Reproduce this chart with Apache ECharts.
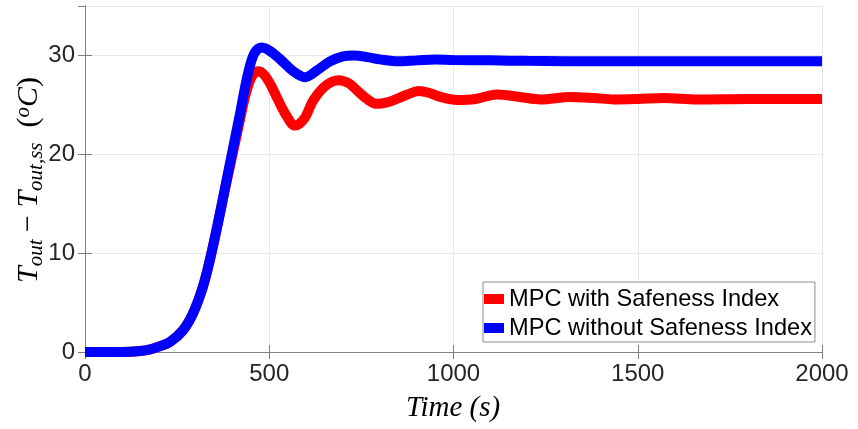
<!DOCTYPE html>
<html>
<head>
<meta charset="utf-8">
<script src="https://cdn.jsdelivr.net/npm/echarts@6/dist/echarts.min.js"></script>
<style>
html,body{margin:0;padding:0;background:#fff;}
#chart{width:858px;height:429px;}
</style>
</head>
<body>
<div id="chart"></div>
<script>
// Series names
const seriesNames = ['MPC with Safeness Index', 'MPC without Safeness Index'];

// MPC with Safeness Index (red)
const redTime = [0, 100, 150, 180, 200, 230, 266, 293, 320, 340, 360, 380, 400, 420, 437, 453, 470, 485, 500, 520, 545, 570, 595, 620, 655, 688, 715, 737, 765, 792, 820, 846, 875, 905, 935, 964, 1010, 1060, 1118, 1180, 1236, 1317, 1380, 1435, 1500, 1570, 1661, 1800, 2000];
const redVal  = [0, 0, 0.1, 0.3, 0.55, 1.0, 2.2, 3.9, 6.6, 9.5, 12.9, 16.5, 19.9, 23.4, 26.2, 27.9, 28.4, 28.1, 27.3, 25.8, 24.0, 22.9, 23.6, 25.5, 27.0, 27.5, 27.2, 26.5, 25.6, 25.1, 25.25, 25.6, 26.05, 26.4, 26.2, 25.8, 25.5, 25.6, 26.05, 25.8, 25.55, 25.8, 25.7, 25.55, 25.6, 25.7, 25.55, 25.6, 25.6];

// MPC without Safeness Index (blue)
const blueTime = [0, 100, 150, 180, 200, 230, 266, 293, 320, 340, 360, 380, 400, 420, 435, 448, 461, 479, 500, 530, 565, 597, 630, 665, 700, 730, 770, 800, 850, 900, 950, 1000, 1100, 1200, 1400, 1600, 1800, 2000];
const blueVal  = [0, 0, 0.1, 0.3, 0.55, 1.0, 2.2, 3.9, 6.6, 9.5, 12.9, 16.6, 20.3, 24.0, 26.9, 29.0, 30.3, 30.8, 30.5, 29.6, 28.4, 27.8, 28.5, 29.4, 29.9, 30.0, 29.8, 29.6, 29.4, 29.5, 29.6, 29.55, 29.5, 29.45, 29.4, 29.4, 29.4, 29.4];

// Axis tick settings
const xMin = 0, xMax = 2000, xStep = 500;
const yMin = 0, yMax = 35, yStep = 10;

const zip = (a, b) => a.map((t, i) => [t, b[i]]);

const chart = echarts.init(document.getElementById('chart'));
const axisGray = '#808080';
const labelColor = '#262626';
const tickFont = 'Liberation Sans, Arial, sans-serif';
const mathFont = 'Liberation Serif, Times New Roman, serif';

const option = {
  animation: false,
  backgroundColor: '#fff',
  grid: { left: 85, right: 36, top: 6, bottom: 77, containLabel: false },
  xAxis: [
    {
      type: 'value', min: xMin, max: xMax, interval: xStep,
      axisLine: { lineStyle: { color: axisGray, width: 1 } },
      axisTick: { inside: true, length: 7, lineStyle: { color: axisGray } },
      axisLabel: { color: labelColor, fontSize: 24, fontFamily: tickFont, margin: 10, formatter: v => String(v) },
      splitLine: { show: true, lineStyle: { color: '#e8e8e8', width: 1 } }
    },
    {
      type: 'value', position: 'top', min: xMin, max: xMax, interval: xStep,
      axisLine: { show: true, lineStyle: { color: axisGray, width: 1 } },
      axisTick: { show: true, inside: true, length: 7, lineStyle: { color: axisGray } },
      axisLabel: { show: false },
      splitLine: { show: false }
    }
  ],
  yAxis: [
    {
      type: 'value', min: yMin, max: yMax, interval: yStep,
      axisLine: { show: true, lineStyle: { color: axisGray, width: 1 } },
      axisTick: { show: true, inside: true, length: 7, lineStyle: { color: axisGray } },
      axisLabel: { color: labelColor, fontSize: 24, fontFamily: tickFont, margin: 10, showMaxLabel: false, formatter: v => String(v) },
      splitLine: { show: true, lineStyle: { color: '#e8e8e8', width: 1 } }
    },
    {
      type: 'value', position: 'right', min: yMin, max: yMax, interval: yStep,
      axisLine: { show: true, lineStyle: { color: axisGray, width: 1 } },
      axisTick: { show: true, inside: true, length: 7, lineStyle: { color: axisGray } },
      axisLabel: { show: false },
      splitLine: { show: false }
    }
  ],
  legend: {
    orient: 'vertical',
    left: 483, top: 282,
    icon: 'rect',
    itemWidth: 20, itemHeight: 10,
    itemGap: 5,
    padding: [5, 3, 2, 1],
    backgroundColor: '#fff',
    borderColor: '#8c8c8c', borderWidth: 1,
    textStyle: { color: '#000', fontSize: 23.6, fontFamily: tickFont, lineHeight: 24 },
    data: seriesNames
  },
  series: [
    {
      name: seriesNames[0], type: 'line', data: zip(redTime, redVal),
      showSymbol: false, smooth: 0.35, color: '#ff0000',
      lineStyle: { width: 10, color: '#ff0000' }
    },
    {
      name: seriesNames[1], type: 'line', data: zip(blueTime, blueVal),
      showSymbol: false, smooth: 0.35, color: '#0000ff',
      lineStyle: { width: 10, color: '#0000ff' }
    }
  ],
  graphic: [
    {
      type: 'text', x: 29, y: 180, rotation: Math.PI / 2,
      style: {
        text: '{i|T}{s|out}{n| − }{i|T}{s|out,ss}{n|  (}{p|o}{i|C}{n|)}',
        align: 'center', verticalAlign: 'middle',
        fill: '#000',
        rich: {
          i: { fontFamily: mathFont, fontStyle: 'italic', fontSize: 30, lineHeight: 34, verticalAlign: 'middle' },
          n: { fontFamily: mathFont, fontSize: 30, lineHeight: 34, verticalAlign: 'middle' },
          s: { fontFamily: mathFont, fontStyle: 'italic', fontSize: 21, lineHeight: 34, verticalAlign: 'middle', padding: [14, 0, 0, 0] },
          p: { fontFamily: mathFont, fontStyle: 'italic', fontSize: 21, lineHeight: 34, verticalAlign: 'middle', padding: [0, 0, 12, 0] }
        }
      }
    },
    {
      type: 'text', x: 453, y: 408,
      style: {
        text: 'Time (s)',
        align: 'center', verticalAlign: 'middle',
        fill: '#000',
        font: 'italic 29px Liberation Serif, serif'
      }
    }
  ]
};
chart.setOption(option);
</script>
</body>
</html>
